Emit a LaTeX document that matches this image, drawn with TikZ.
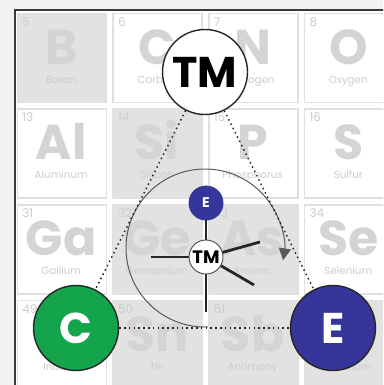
\documentclass[tikz,border=0pt]{standalone}
\usepackage{fontspec}
\setmainfont{Poppins}
\usetikzlibrary{arrows.meta}

\definecolor{pagegray}{HTML}{F2F2F2}
\definecolor{framegray}{HTML}{3A3A3A}
\definecolor{cellfill}{HTML}{E2E2E2}
\definecolor{cellline}{HTML}{E0E0E0}
\definecolor{symgray}{HTML}{D4D4D4}
\definecolor{labelgray}{HTML}{CDCDCD}
\definecolor{elemblue}{HTML}{35359A}
\definecolor{carbgreen}{HTML}{14A54C}
\definecolor{inkdark}{HTML}{262626}
\definecolor{spingray}{HTML}{5A5A5A}

\begin{document}
\begin{tikzpicture}[x=1pt,y=-1pt,
  cellbox/.style={draw=cellline, line width=1.4pt, minimum size=89pt, inner sep=0, anchor=north west},
  elnum/.style={anchor=base west, text=labelgray, font=\fontsize{12}{12}\selectfont, inner sep=0},
  elsym/.style={anchor=base, text=symgray, font=\bfseries\fontsize{49}{49}\selectfont, inner sep=0},
  elname/.style={anchor=base, text=labelgray, font=\fontsize{10.3}{10.3}\selectfont, inner sep=0},
  bigatom/.style={circle, draw=inkdark, line width=1.4pt, minimum size=85pt, inner sep=0,
    font=\bfseries\fontsize{43}{43}\selectfont},
  smallatom/.style={circle, line width=0.9pt, minimum size=34pt, inner sep=0},
  bond/.style={draw=inkdark, line width=2.8pt},
  tether/.style={draw=inkdark, line width=1.5pt, dash pattern=on 1.5pt off 3.3pt},
  spin/.style={draw=spingray, line width=1pt, -{Triangle[length=12pt,width=12pt]}}
]
% canvas and frame
\useasboundingbox (0,0) rectangle (383,385);
\clip (0,0) rectangle (383,385);
\fill[pagegray] (0,0) rectangle (383,385);
\draw[framegray, line width=2pt, fill=white] (15,10.3) rectangle (420,420);

% periodic-table cells: column/row/number/symbol/name/fill
\foreach \c/\r/\n/\s/\nm/\f in {
  0/0/5/B/Boron/cellfill, 1/0/6/C/Carbon/white, 2/0/7/N/Nitrogen/white, 3/0/8/O/Oxygen/white,
  0/1/13/Al/Aluminum/white, 1/1/14/Si/Silicon/cellfill, 2/1/15/P/Phosphorus/white, 3/1/16/S/Sulfur/white,
  0/2/31/Ga/Gallium/white, 1/2/32/Ge/Germanium/cellfill, 2/2/33/As/Arsenic/cellfill, 3/2/34/Se/Selenium/white,
  0/3/49/In/Indium/white, 1/3/50/Sn/Tin/cellfill, 2/3/51/Sb/Antimony/cellfill, 3/3/52/Te/Tellurium/cellfill}{
  \pgfmathsetmacro\cx{16.7+95.7*\c}
  \pgfmathsetmacro\cy{12.7+95.7*\r}
  \node[cellbox, fill=\f] (cell-\n) at (\cx,\cy) {};
  \node[elnum] (num-\n) at (\cx+5.5,\cy+13.5) {\n};
  \node[elsym] (sym-\n) at (\cx+44.5,\cy+51.5) {\s};
  \node[elname] (name-\n) at (\cx+44.5,\cy+70.5) {\nm};
}

% rotation arrow around the complex
\coordinate (hub) at (205,248);
\draw[spin] (hub) ++(88:79) arc[start angle=88, end angle=369, radius=79];

% the three partners
\node[bigatom, fill=white, text=black] (tm) at (205,72) {TM};
\node[bigatom, fill=carbgreen, text=white] (cc) at (76,328) {C};
\node[bigatom, fill=elemblue, text=white] (ee) at (333,328) {E};
\draw[tether] (tm) -- (cc);
\draw[tether] (tm) -- (ee);
\draw[tether] (cc) -- (ee);

% metal centre with its ligands
\coordinate (core) at (206,257);
\coordinate (lig-down) at (206,312);
\coordinate (lig-left) at (151,257);
\coordinate (lig-up) at (260,242);
\coordinate (lig-low) at (254,285);
\node[smallatom, draw=elemblue, fill=elemblue, text=white,
  font=\bfseries\fontsize{14}{14}\selectfont] (es) at (206,203) {E};
\draw[bond] (core) -- (es);
\draw[bond] (core) -- (lig-down);
\draw[bond] (core) -- (lig-left);
\draw[bond] (core) -- (lig-up);
\draw[bond] (core) -- (lig-low);
\node[smallatom, draw=inkdark!85, fill=white, text=black,
  font=\bfseries\fontsize{18}{18}\selectfont] (tms) at (core) {TM};
\end{tikzpicture}
\end{document}
